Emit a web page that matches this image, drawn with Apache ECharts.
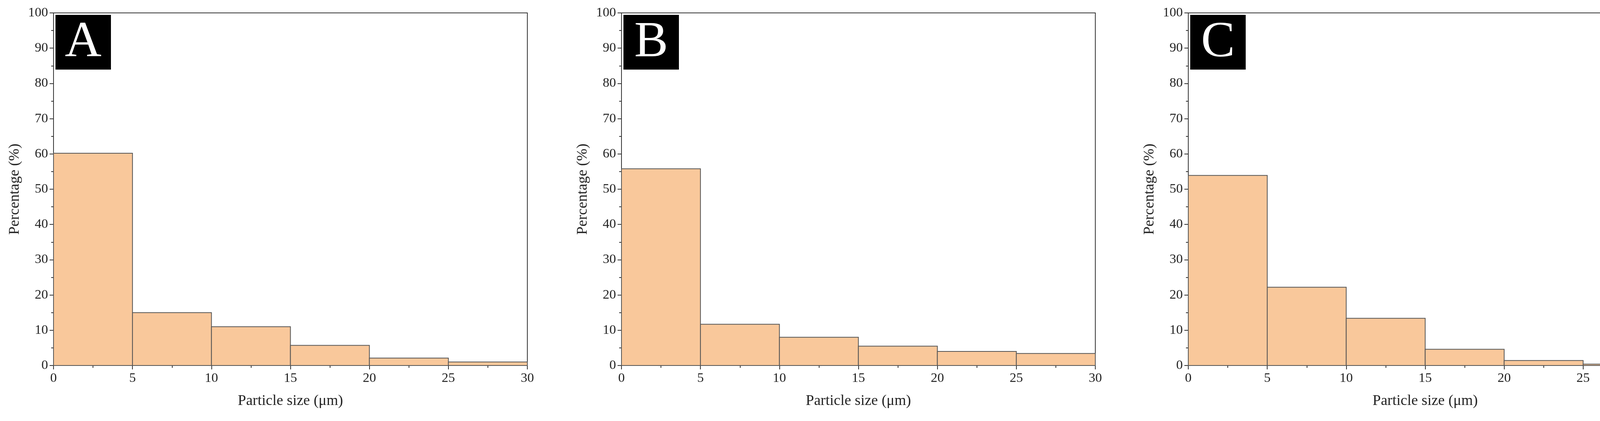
<!DOCTYPE html>
<html>
<head>
<meta charset="utf-8">
<script src="https://cdn.jsdelivr.net/npm/echarts@6/dist/echarts.min.js"></script>
<style>html,body{margin:0;padding:0;background:#fff;overflow:hidden}#main{width:4286px;height:1077px}</style>
</head>
<body>
<div id="main"></div>
<script>
// bin edges (µm) and percentages per panel
const binStarts = [0, 5, 10, 15, 20, 25];
const binWidth = 5;
const panelLabels = ['A', 'B', 'C'];
const valuesA = [60.2, 15.0, 11.0, 5.7, 2.1, 1.0];
const valuesB = [55.8, 11.7, 8.0, 5.5, 4.0, 3.4];
const valuesC = [53.9, 22.2, 13.4, 4.6, 1.4, 0.4];
const panelValues = [valuesA, valuesB, valuesC];

const font = 'Liberation Serif';
const lefts = [137, 1591, 3042];
const plotW = 1213;

const grids = [], xAxes = [], yAxes = [], series = [], graphics = [];
panelValues.forEach(function (vals, i) {
  grids.push({ left: lefts[i], top: 33, width: plotW, height: 902, show: true, borderColor: '#333', borderWidth: 2 });
  xAxes.push({
    type: 'value', gridIndex: i, min: 0, max: 30, interval: 5,
    name: 'Particle size (\u03bcm)', nameLocation: 'middle', nameGap: 72,
    nameTextStyle: { fontFamily: font, fontSize: 38, color: '#222' },
    axisLine: { lineStyle: { color: '#333', width: 2 } },
    axisTick: { length: 10, lineStyle: { color: '#333', width: 2 } },
    minorTick: { show: true, splitNumber: 2, length: 6, lineStyle: { color: '#333', width: 2 } },
    axisLabel: { fontFamily: font, fontSize: 34, color: '#222', margin: 16 },
    splitLine: { show: false }
  });
  yAxes.push({
    type: 'value', gridIndex: i, min: 0, max: 100, interval: 10,
    name: 'Percentage (%)', nameLocation: 'middle', nameGap: 80,
    nameTextStyle: { fontFamily: font, fontSize: 38, color: '#222' },
    axisLine: { show: true, lineStyle: { color: '#333', width: 2 } },
    axisTick: { show: true, length: 10, lineStyle: { color: '#333', width: 2 } },
    minorTick: { show: true, splitNumber: 2, length: 6, lineStyle: { color: '#333', width: 2 } },
    axisLabel: { fontFamily: font, fontSize: 34, color: '#222', margin: 14 },
    splitLine: { show: false }
  });
  series.push({
    type: 'custom', xAxisIndex: i, yAxisIndex: i,
    data: binStarts.map(function (s, k) { return [s, s + binWidth, vals[k]]; }),
    renderItem: function (params, api) {
      const p0 = api.coord([api.value(0), api.value(2)]);
      const p1 = api.coord([api.value(1), 0]);
      return {
        type: 'rect',
        shape: { x: p0[0], y: p0[1], width: p1[0] - p0[0], height: p1[1] - p0[1] },
        style: { fill: '#F9C89B', stroke: '#555', lineWidth: 2 }
      };
    }
  });
  graphics.push({
    type: 'group', left: lefts[i] + 5, top: 38,
    children: [
      { type: 'rect', shape: { x: 0, y: 0, width: 142, height: 140 }, style: { fill: '#000' } },
      { type: 'text', x: 71, y: 72, style: { text: panelLabels[i], fill: '#fff', font: '130px "Liberation Serif"', align: 'center', verticalAlign: 'middle' } }
    ]
  });
});

const chart = echarts.init(document.getElementById('main'));
chart.setOption({
  animation: false,
  backgroundColor: '#fff',
  grid: grids, xAxis: xAxes, yAxis: yAxes, series: series,
  graphic: graphics
});
</script>
</body>
</html>
